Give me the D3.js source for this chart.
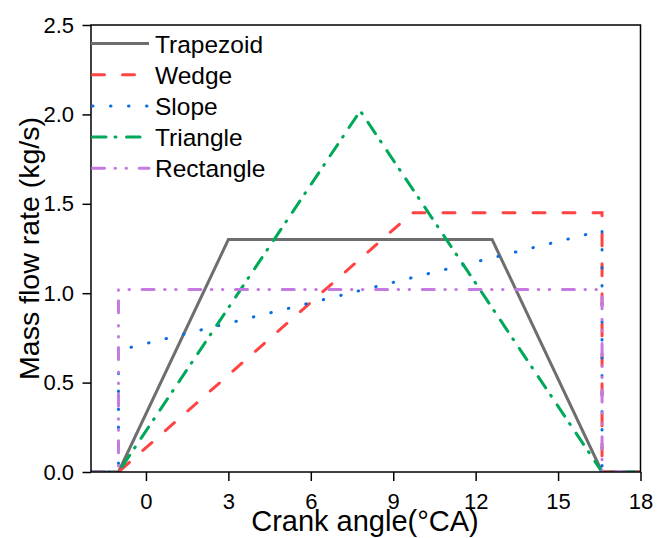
<!DOCTYPE html>
<html>
<head>
<meta charset="utf-8">
<script src="https://cdn.jsdelivr.net/npm/d3@7"></script>
<style>
  html, body { margin: 0; padding: 0; background: #fff; }
  svg { display: block; font-family: "Liberation Sans", Arial, sans-serif; }
</style>
</head>
<body>
<svg id="chart" width="657" height="538"></svg>
<script>
// Injection profiles: crank angle (°CA) vs mass flow rate (kg/s)
const seriesNames = ["Trapezoid", "Wedge", "Slope", "Triangle", "Rectangle"];

const trapezoidX = [-2, -1, 3, 12.6, 16.6, 18];
const trapezoidY = [0, 0, 1.3, 1.3, 0, 0];

const wedgeX = [-2, -1, 9.7, 16.6, 16.6, 18];
const wedgeY = [0, 0, 1.45, 1.45, 0, 0];

const slopeX = [-2, -1, -1, 16.6, 16.6, 18];
const slopeY = [0, 0, 0.68, 1.35, 0, 0];

const triangleX = [-2, -1, 7.8, 16.6, 18];
const triangleY = [0, 0, 2.02, 0, 0];

const rectangleX = [-2, -1, -1, 16.6, 16.6, 18];
const rectangleY = [0, 0, 1.02, 1.02, 0, 0];

const xTicks = [0, 3, 6, 9, 12, 15, 18];
const yTicks = [0, 0.5, 1.0, 1.5, 2.0, 2.5];

const styles = [
  { color: "#6e6e6e", dash: null },
  { color: "#ff4242", dash: "12,18" },
  { color: "#0a6ee0", dash: "0.5,17.5" },
  { color: "#00a85a", dash: "13.5,9,1,10.5" },
  { color: "#c47ae0", dash: "12,10.5,0.5,10.5,0.5,12.7" }
];

const data = [
  d3.zip(trapezoidX, trapezoidY),
  d3.zip(wedgeX, wedgeY),
  d3.zip(slopeX, slopeY),
  d3.zip(triangleX, triangleY),
  d3.zip(rectangleX, rectangleY)
];

const W = 657, H = 538;
const margin = { left: 91, right: 16.5, top: 25, bottom: 66 };
const svg = d3.select("#chart");

const x = d3.scaleLinear().domain([-2, 18]).range([margin.left, W - margin.right]);
const y = d3.scaleLinear().domain([0, 2.5]).range([H - margin.bottom, margin.top]);

const clipId = "plot-clip";
svg.append("defs").append("clipPath").attr("id", clipId)
  .append("rect")
  .attr("x", margin.left).attr("y", margin.top - 2)
  .attr("width", W - margin.left - margin.right)
  .attr("height", H - margin.top - margin.bottom + 2);

const line = d3.line().x(d => x(d[0])).y(d => y(d[1]));

const plot = svg.append("g").attr("clip-path", `url(#${clipId})`);
data.forEach((pts, i) => {
  const s = styles[i];
  plot.append("path")
    .attr("d", line(pts))
    .attr("fill", "none")
    .attr("stroke", s.color)
    .attr("stroke-width", 3)
    .attr("stroke-linecap", s.dash ? "round" : "butt")
    .attr("stroke-linejoin", "miter")
    .attr("stroke-dasharray", s.dash);
});

// Frame
svg.append("rect")
  .attr("x", margin.left).attr("y", margin.top)
  .attr("width", W - margin.left - margin.right)
  .attr("height", H - margin.top - margin.bottom)
  .attr("fill", "none").attr("stroke", "#000").attr("stroke-width", 1.5);

// Axes
const xAxis = svg.append("g")
  .attr("transform", `translate(0,${H - margin.bottom})`)
  .call(d3.axisBottom(x).tickValues(xTicks).tickSize(9).tickPadding(11).tickFormat(d3.format("d")));
const yAxis = svg.append("g")
  .attr("transform", `translate(${margin.left},0)`)
  .call(d3.axisLeft(y).tickValues(yTicks).tickSize(8.5).tickPadding(8.5).tickFormat(d3.format(".1f")));

[xAxis, yAxis].forEach(g => {
  g.select(".domain").remove();
  g.selectAll(".tick line").attr("stroke", "#000").attr("stroke-width", 1.5);
  g.selectAll(".tick text").attr("fill", "#000").attr("font-size", 22)
    .attr("font-family", "Liberation Sans, Arial, sans-serif");
});
xAxis.selectAll(".tick text").attr("dy", null).attr("y", 37);

// Axis titles
svg.append("text")
  .attr("x", 365).attr("y", 531)
  .attr("text-anchor", "middle")
  .attr("font-size", 29)
  .text("Crank angle(°CA)");

svg.append("text")
  .attr("transform", `translate(39,${(margin.top + H - margin.bottom) / 2}) rotate(-90)`)
  .attr("text-anchor", "middle")
  .attr("font-size", 28.5)
  .text("Mass flow rate (kg/s)");

// Legend
const legend = svg.append("g");
seriesNames.forEach((name, i) => {
  const cy = 43.5 + i * 31.2;
  const s = styles[i];
  legend.append("line")
    .attr("x1", s.dash ? 92.5 : 91).attr("x2", 149)
    .attr("y1", cy).attr("y2", cy)
    .attr("stroke", s.color).attr("stroke-width", 3)
    .attr("stroke-linecap", s.dash ? "round" : "butt")
    .attr("stroke-dasharray", s.dash);
  legend.append("text")
    .attr("x", 155).attr("y", cy + 9)
    .attr("font-size", 24.5)
    .text(name);
});
</script>
</body>
</html>
